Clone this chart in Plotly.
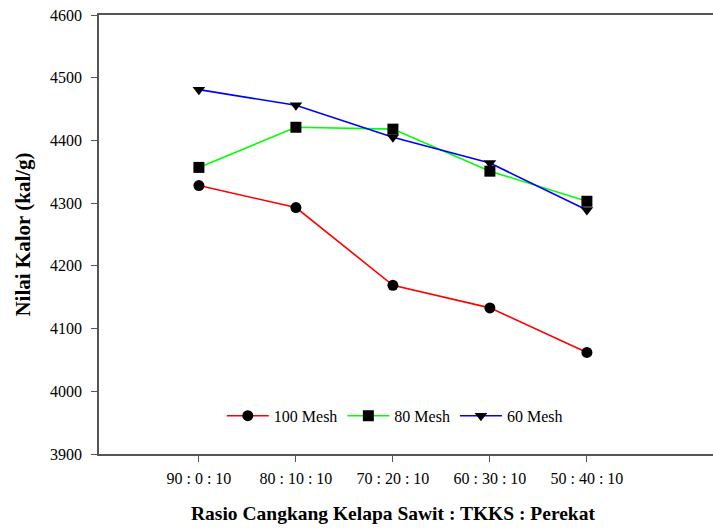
import plotly.graph_objects as go

# Mix ratios (cangkang kelapa sawit : TKKS : perekat)
categories = ["90 : 0 : 10", "80 : 10 : 10", "70 : 20 : 10", "60 : 30 : 10", "50 : 40 : 10"]

# Calorific value (kal/g) per particle size
mesh_100 = [4328, 4293, 4169, 4133, 4062]
mesh_80 = [4357, 4421, 4418, 4351, 4303]
mesh_60 = [4481, 4456, 4405, 4364, 4289]

series = [
    ("100 Mesh", mesh_100, "#ff0000", "circle"),
    ("80 Mesh", mesh_80, "#00ff00", "square"),
    ("60 Mesh", mesh_60, "#0000ff", "triangle-down"),
]

y_ticks = [3900, 4000, 4100, 4200, 4300, 4400, 4500, 4600]

FONT = "Liberation Serif, Times New Roman, serif"
AXIS_GREY = "#555555"

fig = go.Figure()
for name, values, color, symbol in series:
    fig.add_trace(go.Scatter(
        x=categories, y=values, name=name, mode="lines+markers",
        line=dict(color=color, width=1.6),
        marker=dict(symbol=symbol, size=11, color="black"),
    ))

fig.update_layout(
    width=713, height=528,
    margin=dict(l=99, r=0, t=15, b=74),
    paper_bgcolor="white", plot_bgcolor="white",
    font=dict(family=FONT, size=16, color="black"),
    showlegend=True,
    legend=dict(
        orientation="h", x=0.2, xanchor="left", y=0.087, yanchor="middle",
        font=dict(family=FONT, size=16, color="black"),
        bgcolor="rgba(0,0,0,0)", itemwidth=42, tracegroupgap=0,
    ),
    xaxis=dict(
        type="category", range=[-1.03, 5.3],
        showline=True, linecolor=AXIS_GREY, linewidth=1.6, mirror=True,
        ticks="outside", ticklen=6, tickcolor=AXIS_GREY, tickwidth=1.2,
        showgrid=False, zeroline=False,
        tickfont=dict(family=FONT, size=16, color="black"),
        ticklabelstandoff=3,
    ),
    yaxis=dict(
        range=[3900, 4600], tickvals=y_ticks,
        showline=True, linecolor=AXIS_GREY, linewidth=1.6,
        ticks="outside", ticklen=6, tickcolor=AXIS_GREY, tickwidth=1.2,
        showgrid=False, zeroline=False,
        tickfont=dict(family=FONT, size=16, color="black"),
        ticklabelstandoff=6,
        title=dict(text="<b>Nilai Kalor (kal/g)</b>",
                   font=dict(family=FONT, size=21, color="black"), standoff=14),
    ),
    annotations=[dict(
        text="<b>Rasio Cangkang Kelapa Sawit : TKKS : Perekat</b>",
        x=2, xref="x", y=-0.136, yref="paper", yanchor="middle",
        showarrow=False, font=dict(family=FONT, size=19.5, color="black"),
    )],
)

fig.write_html("out.html")
